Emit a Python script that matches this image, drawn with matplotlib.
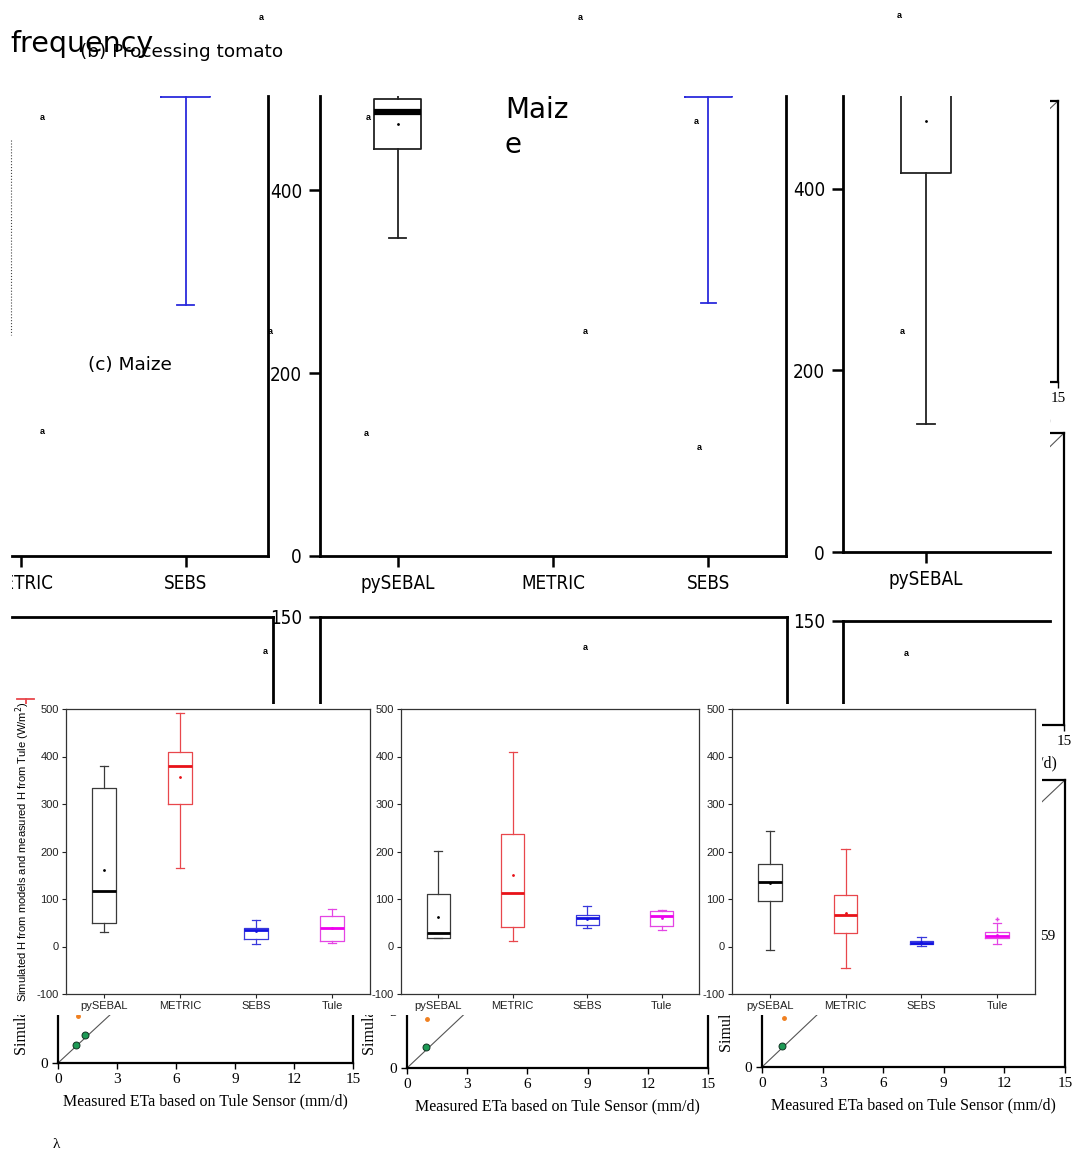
import matplotlib
matplotlib.use('Agg')
import matplotlib.pyplot as plt
from matplotlib.patches import Rectangle
from matplotlib.lines import Line2D
from matplotlib.transforms import Bbox, TransformedBbox

# ---------------- data ----------------
methods = ['pySEBAL', 'METRIC', 'SEBS', 'Tule']

# foreground H box plots (W/m2): three panels, four methods each
h1_whislo = [30, 165, 5, 8]
h1_q1 = [50, 300, 15, 12]
h1_med = [116, 380, 35, 39]
h1_mean = [162, 357, 33, 40]
h1_q3 = [333, 410, 40, 65]
h1_whishi = [380, 492, 55, 78]

h2_whislo = [18, 12, 40, 35]
h2_q1 = [18, 42, 45, 43]
h2_med = [28, 113, 60, 64]
h2_mean = [63, 150, 58, 60]
h2_q3 = [110, 236, 66, 75]
h2_whishi = [202, 410, 86, 76]

h3_whislo = [-7, -45, 1, 6]
h3_q1 = [96, 28, 5, 18]
h3_med = [136, 66, 8, 22]
h3_mean = [133, 70, 9, 25]
h3_q3 = [173, 108, 11, 30]
h3_whishi = [243, 205, 20, 50]
h3_fliers = [[], [], [], [58]]

# background (cropped) box plots, upper row
t1_methods = ['METRIC', 'SEBS']
t1_sebs = dict(whislo=275, q1=502, med=540, mean=560, q3=580, whishi=620)
t2_methods = ['pySEBAL', 'METRIC', 'SEBS']
t2_pysebal = dict(whislo=348, q1=445, med=486, mean=472, q3=500, whishi=510)
t2_sebs = dict(whislo=277, q1=502, med=540, mean=560, q3=580, whishi=620)
t3_methods = ['pySEBAL']
t3_pysebal = dict(whislo=141, q1=417, med=530, mean=475, q3=560, whishi=600)
t_yticks = [0, 200, 400]
mid_ytick = [150]
mid1_metric = dict(whislo=60, q1=80, med=90, mean=92, q3=100, whishi=112.5)

# background scatter panels (ETa, mm/d)
et_ticks = [0, 3, 6, 9, 12, 15]
sa_green_x = [0.93, 1.38]
sa_green_y = [0.98, 1.55]
sa_orange = (1.0, 2.6)
sb_green_x = [0.95]
sb_green_y = [1.1]
sb_orange = (1.0, 2.6)
sc_green_x = [1.0]
sc_green_y = [1.08]
sc_orange = (1.1, 2.55)

# ---------------- figure ----------------
W, H = 1072, 1157
fig = plt.figure(figsize=(W / 100, H / 100), dpi=100)
fig.patch.set_facecolor('white')

NARROW = dict(fontfamily=['DejaVu Sans'], fontstretch='condensed')
SANS = ['Liberation Sans', 'DejaVu Sans']
SERIF = ['Liberation Serif', 'DejaVu Serif']
TFS = 13.5


def px_ax(x0, y0, x1, y1, z):
    ax = fig.add_axes([x0 / W, 1 - y1 / H, (x1 - x0) / W, (y1 - y0) / H])
    ax.set_zorder(z)
    return ax


def backing(x0, y0, x1, y1, z):
    fig.add_artist(Rectangle((x0 / W, 1 - y1 / H), (x1 - x0) / W, (y1 - y0) / H,
                             transform=fig.transFigure, facecolor='white',
                             edgecolor='none', zorder=z))


def draw_box(ax, pos, st, edge, medc, width, capw, lw, medlw, fliers=()):
    s = dict(st)
    s['fliers'] = list(fliers)
    ax.bxp([s], positions=[pos], widths=width, showmeans=True, capwidths=capw,
           boxprops=dict(color=edge, linewidth=lw),
           whiskerprops=dict(color=edge, linewidth=lw),
           capprops=dict(color=edge, linewidth=lw),
           medianprops=dict(color=medc, linewidth=medlw),
           meanprops=dict(marker='.', markersize=2, markerfacecolor=medc,
                          markeredgecolor=medc),
           flierprops=dict(marker='+', markersize=3, markeredgecolor=edge),
           manage_ticks=False)


# ---------- layer 0: scatter panels ----------
def scatter_panel(x0, y0, x1, y1, ylab_x, gx=None, gy=None, orange=None):
    ax = px_ax(x0, y0, x1, y1, 1)
    ax.set_xlim(0, 15)
    ax.set_ylim(0, 15)
    ax.plot([0, 15], [0, 15], color='#555555', lw=0.8)
    if gx is not None:
        ax.plot(gx, gy, 'o', color='#1d9a55', mec='#113322', ms=5, mew=0.7)
    if orange is not None:
        ax.plot([orange[0]], [orange[1]], 'o', color='#f08020', ms=2.5)
    for s in ax.spines.values():
        s.set_linewidth(1.6)
    ax.set_xticks(et_ticks, [str(t) for t in et_ticks], fontfamily=SERIF, fontsize=11)
    ax.set_yticks(et_ticks, [str(t) for t in et_ticks], fontfamily=SERIF, fontsize=11)
    ax.tick_params(direction='out', length=4, width=1)
    ax.set_xlabel('Measured ETa based on Tule Sensor (mm/d)', fontfamily=SERIF,
                  fontsize=11.5, labelpad=5)
    ax.set_ylabel('Simulated ETa based on models (mm/d)', fontfamily=SERIF,
                  fontsize=11.5)
    # label coordinate = right-hand (baseline) side of the rotated text
    ax.yaxis.set_label_coords((ylab_x - x0) / (x1 - x0), 0.5)
    return ax


scatter_panel(58, 790, 353, 1063, 29, sa_green_x, sa_green_y, sa_orange)
scatter_panel(407, 785, 708, 1068, 377, sb_green_x, sb_green_y, sb_orange)
scatter_panel(762, 780, 1065, 1067, 734, sc_green_x, sc_green_y, sc_orange)
scatter_panel(758, 101, 1058, 382, 729)
scatter_panel(764, 433, 1064, 725, 735)

# ---------- layer 1: upper cropped box plots ----------
backing(12, 90, 1050, 598, 2)

BLUE = '#2b2bdc'
RED = '#e8474c'
clip_left = TransformedBbox(Bbox.from_extents(12 / W, 0, 1, 1), fig.transFigure)

t1 = px_ax(12, 96, 268, 556, 3)
t1.set_xlim(2 - 9 / 165, 3.5)
t1.set_ylim(0, 503)
draw_box(t1, 3, t1_sebs, BLUE, BLUE, 0.3, 0.1, 1.3, 2.5)
t1.set_xticks([2, 3], t1_methods, fontsize=TFS, **NARROW)
t1.set_yticks([])
for lb in t1.get_xticklabels():
    lb.set_clip_box(clip_left)
    lb.set_clip_on(True)

t2 = px_ax(320, 96, 786, 556, 3)
t2.set_xlim(0.5, 3.5)
t2.set_ylim(0, 503)
draw_box(t2, 1, t2_pysebal, '#222222', '#000000', 0.3, 0.11, 1.3, 4.5)
draw_box(t2, 3, t2_sebs, BLUE, BLUE, 0.3, 0.1, 1.3, 2.5)
t2.set_xticks([1, 2, 3], t2_methods, fontsize=TFS, **NARROW)
t2.set_yticks(t_yticks, [str(v) for v in t_yticks], fontsize=TFS, **NARROW)

t3 = px_ax(843, 96, 1050, 552, 3)
t3.set_xlim(0.5, 0.5 + 207 / 166)
t3.set_ylim(0, 502)
draw_box(t3, 1, t3_pysebal, '#222222', '#000000', 0.3, 0.11, 1.3, 4.5)
t3.set_xticks([1], t3_methods, fontsize=TFS, **NARROW)
t3.set_yticks(t_yticks, [str(v) for v in t_yticks], fontsize=TFS, **NARROW)

for ax in (t1, t2, t3):
    ax.spines['top'].set_visible(False)
    for s in ax.spines.values():
        s.set_linewidth(2)
    ax.tick_params(direction='out', length=8, width=1.8, pad=5)
t1.spines['left'].set_visible(False)
t3.spines['right'].set_visible(False)

# ---------- layer 2: middle cropped panels ----------
backing(12, 598, 1050, 704, 4)

m1 = px_ax(12, 617, 273, 704, 5)
m2 = px_ax(320, 617, 787, 704, 5)
m3 = px_ax(843, 621, 1050, 704, 5)
for ax in (m1, m2, m3):
    ax.set_ylim(110, 150)
    ax.set_xticks([])
    ax.spines['bottom'].set_visible(False)
    for s in ax.spines.values():
        s.set_linewidth(2)
    ax.tick_params(direction='out', length=8, width=1.8, pad=5)
m1.set_xlim(2 - 13.5 / 165, 3.5)
draw_box(m1, 2, mid1_metric, RED, RED, 0.3, 0.1, 1.3, 2.5)
m1.set_yticks([])
m1.spines['left'].set_visible(False)
m2.set_yticks(mid_ytick, [str(v) for v in mid_ytick], fontsize=TFS, **NARROW)
m3.set_yticks(mid_ytick, [str(v) for v in mid_ytick], fontsize=TFS, **NARROW)
m3.spines['right'].set_visible(False)

# ---------- layer 3: foreground H box plots ----------
edge_cols = ['#3a3a3a', '#e8474c', '#3838dc', '#e445e4']
med_cols = ['#000000', '#e81218', '#1212e0', '#ee00ee']


def h_panel(x0, x1, whislo, q1, med, mean, q3, whishi, fliers=None, ylabel=False):
    ax = px_ax(x0, 709, x1, 994, 7)
    for i in range(4):
        st = dict(whislo=whislo[i], q1=q1[i], med=med[i], mean=mean[i],
                  q3=q3[i], whishi=whishi[i])
        draw_box(ax, i + 1, st, edge_cols[i], med_cols[i], 0.31, 0.11, 0.9, 2.0,
                 fliers[i] if fliers else ())
    ax.set_xlim(0.5, 4.5)
    ax.set_ylim(-100, 500)
    ax.set_xticks([1, 2, 3, 4], methods, fontfamily=SANS, fontsize=8)
    yt = [-100, 0, 100, 200, 300, 400, 500]
    ax.set_yticks(yt, [str(v) for v in yt], fontfamily=SANS, fontsize=8)
    ax.tick_params(direction='out', length=3, width=0.8, pad=2, colors='#222222')
    for s in ax.spines.values():
        s.set_linewidth(0.9)
        s.set_color('#333333')
    if ylabel:
        ax.set_ylabel('Simulated H from models and measured H from Tule (W/m$^2$)',
                      fontfamily=SANS, fontsize=8)
        ax.yaxis.set_label_coords((32 - x0) / (x1 - x0), 0.5)
    return ax


backing(12, 704, 372, 1015, 6)
h_panel(66, 370, h1_whislo, h1_q1, h1_med, h1_mean, h1_q3, h1_whishi, ylabel=True)
backing(372, 704, 700, 1015, 6.1)
h_panel(401, 699, h2_whislo, h2_q1, h2_med, h2_mean, h2_q3, h2_whishi)
backing(700, 704, 1042, 1015, 6.2)
h_panel(732, 1035, h3_whislo, h3_q1, h3_med, h3_mean, h3_q3, h3_whishi, h3_fliers)

# ---------- loose texts on top ----------
def ftxt(x, y, s, **kw):
    fig.text(x / W, 1 - y / H, s, zorder=10, **kw)


ftxt(10, 44, 'frequency', fontsize=20.5, va='center', ha='left')
ftxt(80, 52, '(b) Processing tomato', fontsize=13.3, va='center', ha='left')
ftxt(88, 365, '(c) Maize', fontsize=13.3, va='center', ha='left')
ftxt(505, 110, 'Maiz', fontsize=20, va='center', ha='left')
ftxt(505, 145, 'e', fontsize=20, va='center', ha='left')

a_pos = [(261, 18), (580, 17), (899, 15), (42, 118), (368, 117), (696, 121),
         (270, 332), (585, 332), (902, 331), (42, 431), (366, 433), (699, 448),
         (265, 652), (585, 648), (906, 654)]
for (x, y) in a_pos:
    ftxt(x, y, 'a', fontsize=6.5, fontweight='bold', fontfamily=SANS,
         ha='center', va='center')

ftxt(1048, 936, '59', fontsize=11, fontfamily=SERIF, ha='center', va='center')
ftxt(56, 1145, 'λ', fontsize=11, fontfamily=SERIF, ha='center', va='center')

fig.add_artist(Line2D([11 / W, 11 / W], [1 - 140 / H, 1 - 335 / H], ls=':', lw=0.8,
                      color='#444444', transform=fig.transFigure, zorder=10))

fig.savefig('out.png', dpi=100, facecolor='white')
